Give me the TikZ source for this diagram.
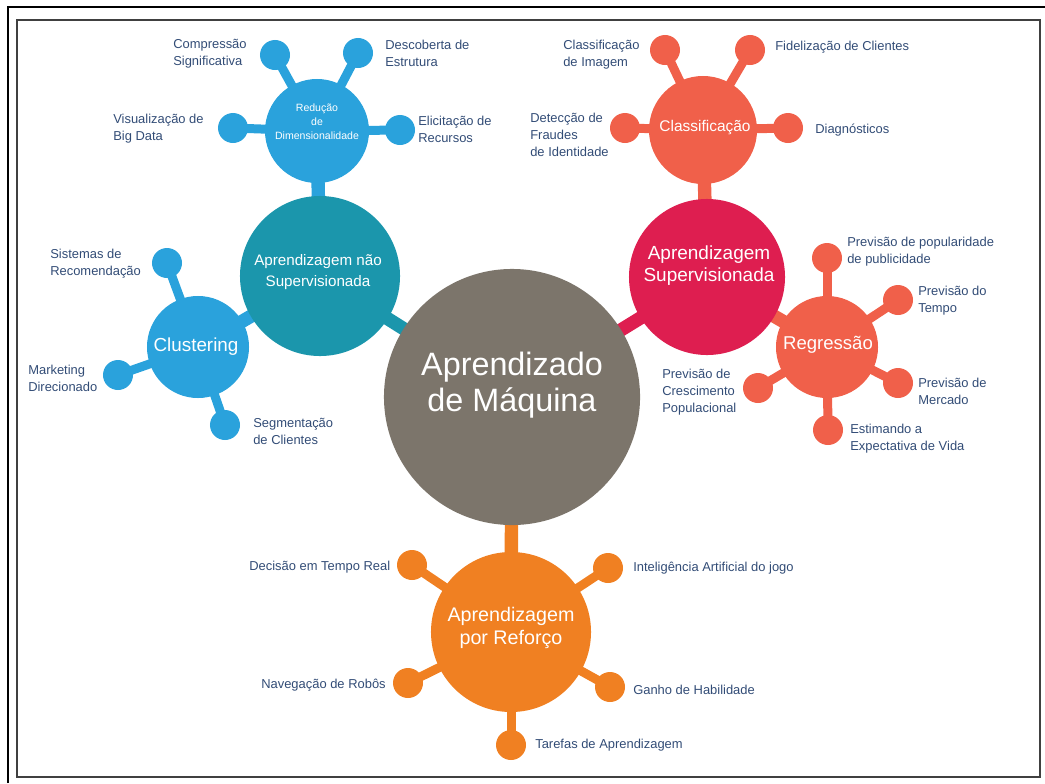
\documentclass[tikz,border=0pt]{standalone}
\usepackage{fontspec}
\setmainfont{Liberation Sans}
\usetikzlibrary{backgrounds}

\definecolor{mlGray}{RGB}{124,117,107}
\definecolor{mlTeal}{RGB}{27,150,172}
\definecolor{mlBlue}{RGB}{42,162,220}
\definecolor{mlCrimson}{RGB}{222,30,80}
\definecolor{mlCoral}{RGB}{240,96,74}
\definecolor{mlOrange}{RGB}{240,128,34}
\definecolor{lblBlue}{RGB}{50,76,118}

\tikzset{
  hub/.style={circle, fill=#1, inner sep=0pt},
  hubtext/.style={text=white, align=center, inner sep=0pt},
  sat/.style={circle, fill=#1, minimum size=0.75cm, inner sep=0pt},
  link/.style={draw=#1, line width=9.5pt},
  twig/.style={draw=#1, line width=6.4pt},
  lbl/.style={anchor=west, align=left, inner sep=0pt, text=lblBlue, font=\fontsize{9.2}{12.2}\selectfont},
}

\begin{document}
\begin{tikzpicture}[x=0.025cm, y=-0.025cm]
\useasboundingbox (0,0) rectangle (1045,783);

% frames
\draw[line width=1.6pt] (8,783) -- (8,7) -- (1045,7);
\draw[line width=1.4pt, black!75] (17,20) rectangle (1040,777);

% main hub
\node[hub=mlGray, minimum size=6.4cm] (Central) at (512,397) {};
\node[hubtext, font=\fontsize{23}{25.5}\selectfont] (txtCentral) at (512,385) {Aprendizado\\de Máquina};

% unsupervised
\node[hub=mlTeal, minimum size=4cm] (Unsup) at (320,276) {};
\node[hubtext, font=\fontsize{10.8}{14.5}\selectfont] (txtUnsup) at (318,272) {Aprendizagem não\\Supervisionada};

\node[hub=mlBlue, minimum size=2.6cm] (Dim) at (317,131) {};
\node[hubtext, font=\fontsize{7.5}{10}\selectfont] (txtDim) at (317,122) {Redução\\de\\Dimensionalidade};

\node[hub=mlBlue, minimum size=2.55cm] (Clust) at (198,347) {};
\node[hubtext, font=\fontsize{13.4}{16}\selectfont] (txtClust) at (196,347) {Clustering};

% supervised
\node[hub=mlCrimson, minimum size=3.9cm] (Sup) at (707,277) {};
\node[hubtext, font=\fontsize{13.5}{15.6}\selectfont] (txtSup) at (709,266) {Aprendizagem\\Supervisionada};

\node[hub=mlCoral, minimum size=2.7cm] (Class) at (703,130) {};
\node[hubtext, font=\fontsize{11}{13}\selectfont] (txtClass) at (705,128) {Classificação};

\node[hub=mlCoral, minimum size=2.55cm] (Regr) at (827,347) {};
\node[hubtext, font=\fontsize{13.2}{16}\selectfont] (txtRegr) at (828,345) {Regressão};

% reinforcement
\node[hub=mlOrange, minimum size=4cm] (Reinf) at (511,632) {};
\node[hubtext, font=\fontsize{14}{16.5}\selectfont] (txtReinf) at (511,628) {Aprendizagem\\por Reforço};

% satellites
\node[sat=mlBlue] (satCompr) at (275,55) {};
\node[sat=mlBlue] (satDesc) at (358,53) {};
\node[sat=mlBlue] (satVis) at (233,128) {};
\node[sat=mlBlue] (satElic) at (400,130) {};
\node[sat=mlBlue] (satSist) at (167,263) {};
\node[sat=mlBlue] (satMark) at (118,375) {};
\node[sat=mlBlue] (satSegm) at (225,425) {};

\node[sat=mlCoral] (satImg) at (665,50) {};
\node[sat=mlCoral] (satFid) at (750,50) {};
\node[sat=mlCoral] (satFraud) at (625,128) {};
\node[sat=mlCoral] (satDiag) at (788,128) {};
\node[sat=mlCoral] (satPopul) at (827,258) {};
\node[sat=mlCoral] (satTempo) at (898,300) {};
\node[sat=mlCoral] (satMerc) at (898,383) {};
\node[sat=mlCoral] (satVida) at (828,430) {};
\node[sat=mlCoral] (satCresc) at (758,388) {};

\node[sat=mlOrange] (satDecis) at (412,565) {};
\node[sat=mlOrange] (satIA) at (608,568) {};
\node[sat=mlOrange] (satNaveg) at (408,683) {};
\node[sat=mlOrange] (satGanho) at (610,687) {};
\node[sat=mlOrange] (satTaref) at (511,745) {};

% links behind the circles
\begin{scope}[on background layer]
\draw[link=mlTeal] (Central.center) -- (Unsup.center);
\draw[link=mlCrimson] (Central.center) -- (Sup.center);
\draw[link=mlOrange] (Central.center) -- (Reinf.center);
\draw[link=mlBlue] (Unsup.center) -- (Dim.center);
\draw[link=mlBlue] (Unsup.center) -- (Clust.center);
\draw[link=mlCoral] (Sup.center) -- (Class.center);
\draw[link=mlCoral] (Sup.center) -- (Regr.center);
\foreach \s in {satCompr,satDesc,satVis,satElic}
  \draw[twig=mlBlue] (Dim.center) -- (\s.center);
\foreach \s in {satSist,satMark,satSegm}
  \draw[twig=mlBlue] (Clust.center) -- (\s.center);
\foreach \s in {satImg,satFid,satFraud,satDiag}
  \draw[twig=mlCoral] (Class.center) -- (\s.center);
\foreach \s in {satPopul,satTempo,satMerc,satVida,satCresc}
  \draw[twig=mlCoral] (Regr.center) -- (\s.center);
\foreach \s in {satDecis,satIA,satNaveg,satGanho,satTaref}
  \draw[twig=mlOrange] (Reinf.center) -- (\s.center);
\end{scope}

% labels
\node[lbl] (lblCompr) at (173,54) {Compressão\\Significativa};
\node[lbl] (lblDesc) at (385,53) {Descoberta de\\Estrutura};
\node[lbl] (lblVis) at (113,129) {Visualização de\\Big Data};
\node[lbl] (lblElic) at (418,129) {Elicitação de\\Recursos};
\node[lbl] (lblSist) at (50,264) {Sistemas de\\Recomendação};
\node[lbl] (lblMark) at (28,378) {Marketing\\Direcionado};
\node[lbl] (lblSegm) at (253,431) {Segmentação\\de Clientes};

\node[lbl] (lblImg) at (563,55) {Classificação\\de Imagem};
\node[lbl] (lblFid) at (775,47) {Fidelização de Clientes};
\node[lbl] (lblFraud) at (530,135) {Detecção de\\Fraudes\\de Identidade};
\node[lbl] (lblDiag) at (815,130) {Diagnósticos};
\node[lbl] (lblPopul) at (847,252) {Previsão de popularidade\\de publicidade};
\node[lbl] (lblTempo) at (918,301) {Previsão do\\Tempo};
\node[lbl] (lblMerc) at (918,391) {Previsão de\\Mercado};
\node[lbl] (lblVida) at (850,439) {Estimando a\\Expectativa de Vida};
\node[lbl] (lblCresc) at (662,392) {Previsão de\\Crescimento\\Populacional};

\node[lbl] (lblDecis) at (249,567) {Decisão em Tempo Real};
\node[lbl] (lblIA) at (633,568) {Inteligência Artificial do jogo};
\node[lbl] (lblNaveg) at (261,685) {Navegação de Robôs};
\node[lbl] (lblGanho) at (633,690) {Ganho de Habilidade};
\node[lbl] (lblTaref) at (535,745) {Tarefas de Aprendizagem};

\end{tikzpicture}
\end{document}
